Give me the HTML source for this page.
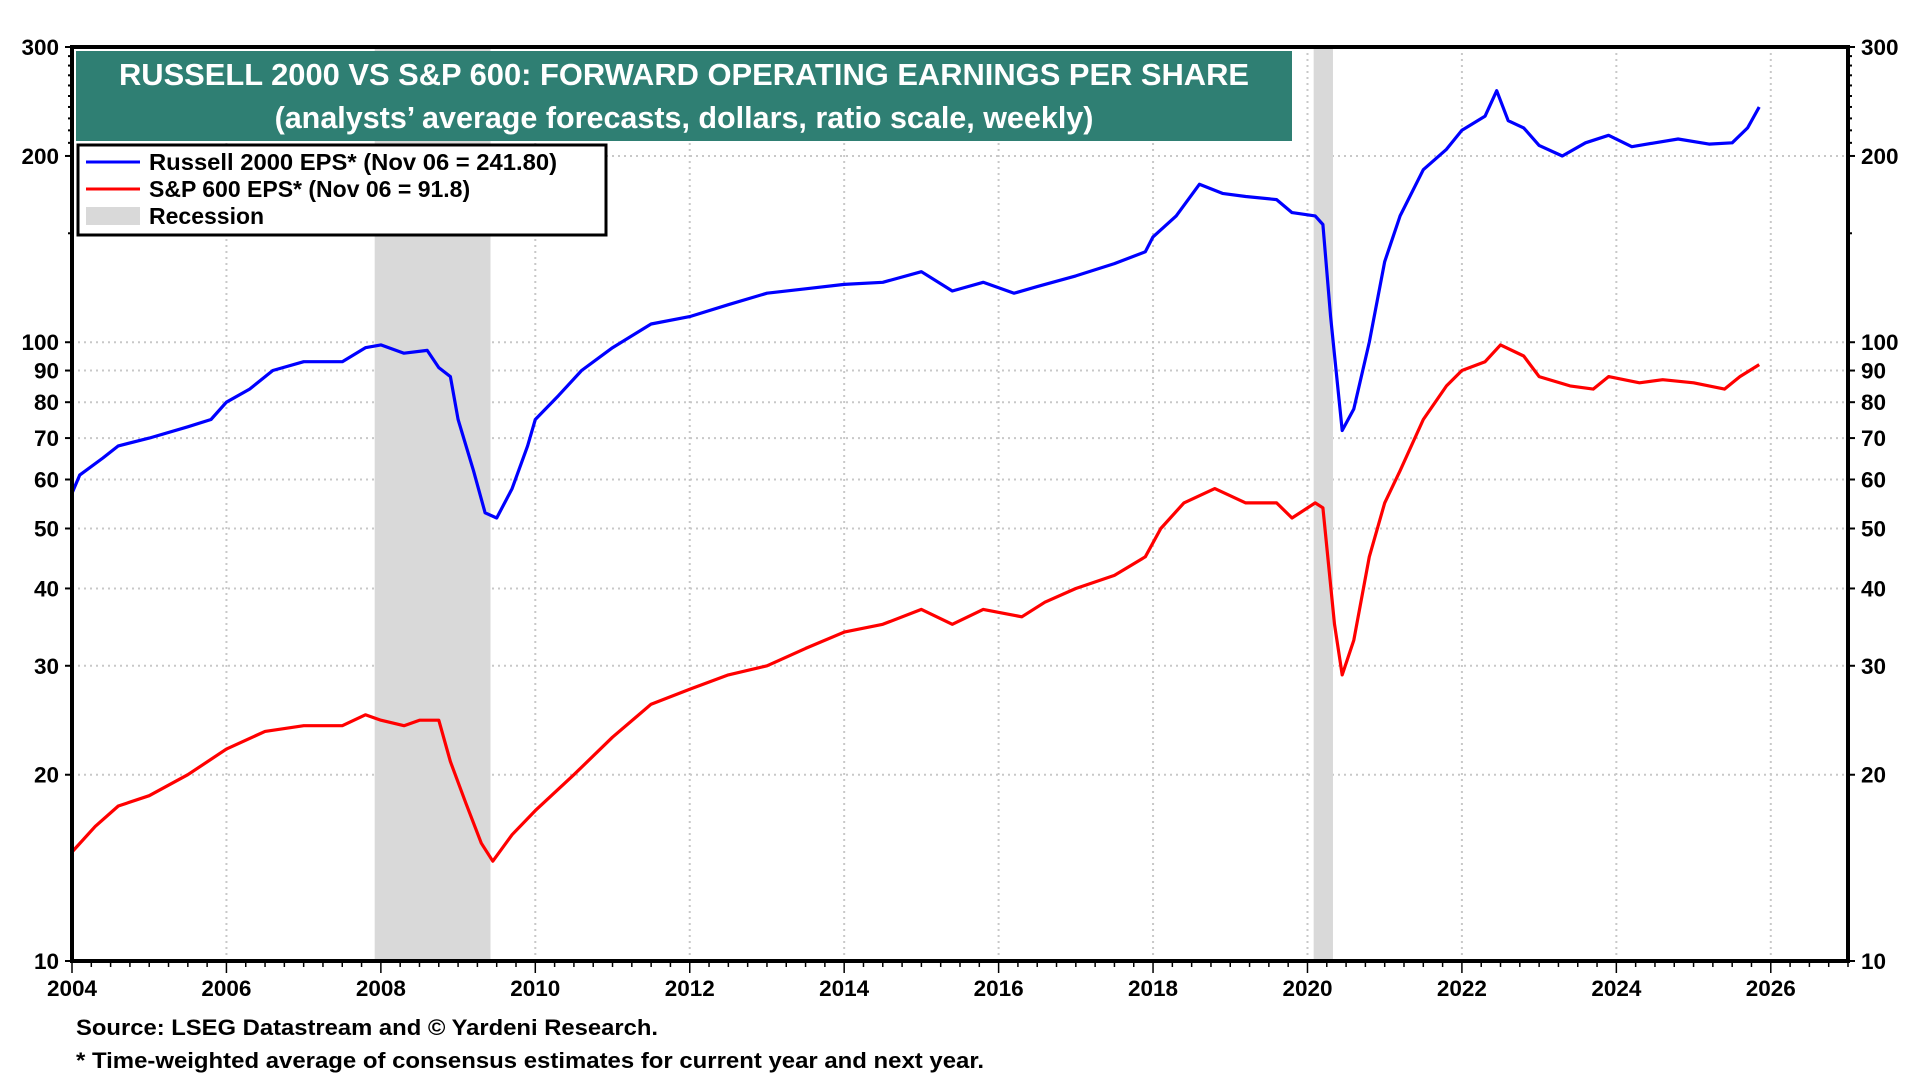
<!DOCTYPE html>
<html><head><meta charset="utf-8"><style>
body{margin:0;background:#fff;}
svg{display:block;font-family:"Liberation Sans",Arial,sans-serif;font-weight:bold;}
</style></head><body>
<svg id="chart" width="1920" height="1080" viewBox="0 0 1920 1080">
<g id="grid"></g>
<g id="recess"></g>
<g id="lines"></g>
<g id="axes"></g>
<rect x="76" y="51" width="1216" height="90" fill="#2F7F73"/>
<text x="684" y="85" text-anchor="middle" fill="#fff" font-size="30.5" textLength="1130" lengthAdjust="spacingAndGlyphs">RUSSELL 2000 VS S&amp;P 600: FORWARD OPERATING EARNINGS PER SHARE</text>
<text x="684" y="128" text-anchor="middle" fill="#fff" font-size="30.5">(analysts’ average forecasts, dollars, ratio scale, weekly)</text>
<g>
<rect x="78" y="145" width="528" height="90" fill="#fff" stroke="#000" stroke-width="3"/>
<line x1="86" y1="162" x2="140" y2="162" stroke="#0000FF" stroke-width="3"/>
<text x="149" y="170" font-size="23" textLength="408" lengthAdjust="spacingAndGlyphs">Russell 2000 EPS* (Nov 06 = 241.80)</text>
<line x1="86" y1="189" x2="140" y2="189" stroke="#FF0000" stroke-width="3"/>
<text x="149" y="197" font-size="23">S&amp;P 600 EPS* (Nov 06 = 91.8)</text>
<rect x="86" y="207" width="54" height="18" fill="#D9D9D9"/>
<text x="149" y="224" font-size="23">Recession</text>
</g>
<text x="76" y="1035" font-size="22" textLength="582" lengthAdjust="spacingAndGlyphs">Source: LSEG Datastream and © Yardeni Research.</text>
<text x="76" y="1068" font-size="22" textLength="908" lengthAdjust="spacingAndGlyphs">* Time-weighted average of consensus estimates for current year and next year.</text>
</svg>
<script>
const r2kYears=[2004.0,2004.1,2004.4,2004.6,2005.0,2005.5,2005.8,2006.0,2006.3,2006.6,2007.0,2007.5,2007.8,2008.0,2008.3,2008.6,2008.75,2008.9,2009.0,2009.2,2009.35,2009.5,2009.7,2009.9,2010.0,2010.3,2010.6,2011.0,2011.5,2012.0,2012.5,2013.0,2013.5,2014.0,2014.5,2015.0,2015.4,2015.8,2016.2,2016.5,2017.0,2017.5,2017.9,2018.0,2018.3,2018.6,2018.9,2019.2,2019.6,2019.8,2020.1,2020.2,2020.3,2020.45,2020.6,2020.8,2021.0,2021.2,2021.5,2021.8,2022.0,2022.3,2022.45,2022.6,2022.8,2023.0,2023.3,2023.6,2023.9,2024.2,2024.5,2024.8,2025.2,2025.5,2025.7,2025.85];
const r2kValues=[57,61,65,68,70,73,75,80,84,90,93,93,98,99,96,97,91,88,75,62,53,52,58,68,75,82,90,98,107,110,115,120,122,124,125,130,121,125,120,123,128,134,140,148,160,180,174,172,170,162,160,155,110,72,78,100,135,160,190,205,220,232,255,228,222,208,200,210,216,207,210,213,209,210,222,240];
const sp6Years=[2004.0,2004.3,2004.6,2005.0,2005.5,2006.0,2006.5,2007.0,2007.5,2007.8,2008.0,2008.3,2008.5,2008.75,2008.9,2009.1,2009.3,2009.45,2009.7,2010.0,2010.5,2011.0,2011.5,2012.0,2012.5,2013.0,2013.5,2014.0,2014.5,2015.0,2015.4,2015.8,2016.3,2016.6,2017.0,2017.5,2017.9,2018.1,2018.4,2018.8,2019.2,2019.6,2019.8,2020.1,2020.2,2020.35,2020.45,2020.6,2020.8,2021.0,2021.2,2021.5,2021.8,2022.0,2022.3,2022.5,2022.8,2023.0,2023.4,2023.7,2023.9,2024.3,2024.6,2025.0,2025.4,2025.6,2025.85];
const sp6Values=[15,16.5,17.8,18.5,20,22,23.5,24,24,25,24.5,24,24.5,24.5,21,18,15.5,14.5,16,17.5,20,23,26,27.5,29,30,32,34,35,37,35,37,36,38,40,42,45,50,55,58,55,55,52,55,54,35,29,33,45,55,62,75,85,90,93,99,95,88,85,84,88,86,87,86,84,88,92];
const recessionStarts=[2007.92,2020.08];
const recessionEnds=[2009.42,2020.33];
const yTicks=[10,20,30,40,50,60,70,80,90,100,200,300];
const xTicks=[2004,2006,2008,2010,2012,2014,2016,2018,2020,2022,2024,2026];

const L=72,R=1848,T=47,B=961,X0=2004,X1=2027;
const NS="http://www.w3.org/2000/svg";
function xS(y){return L+(y-X0)/(X1-X0)*(R-L);}
function yS(v){return B-(Math.log10(v)-1)/Math.log10(30)*(B-T);}
function mk(tag,attrs,parent,txt){const e=document.createElementNS(NS,tag);for(const k in attrs)e.setAttribute(k,attrs[k]);if(txt!==undefined)e.textContent=txt;parent.appendChild(e);return e;}
const grid=document.getElementById('grid'),rec=document.getElementById('recess'),lines=document.getElementById('lines'),axes=document.getElementById('axes');

yTicks.forEach(v=>{
  if(v!==10&&v!==300){const g=mk('line',{x1:L,x2:R,y1:yS(v),y2:yS(v),stroke:'#C8C8C8','stroke-width':2,'stroke-dasharray':'2,4'},grid);
  
  }
  const a=mk('text',{x:L-13,y:yS(v)+8,'text-anchor':'end','font-size':22.5},axes,String(v));
  
  
  const b=mk('text',{x:R+13,y:yS(v)+8,'font-size':22.5},axes,String(v));
  
  
  mk('line',{x1:L-7,x2:L,y1:yS(v),y2:yS(v),stroke:'#000','stroke-width':2},axes);
  mk('line',{x1:R,x2:R+7,y1:yS(v),y2:yS(v),stroke:'#000','stroke-width':2},axes);
});
[150,250].concat([210,220,230,240,260,270,280,290]).forEach(v=>{
  mk('line',{x1:L-4,x2:L,y1:yS(v),y2:yS(v),stroke:'#000','stroke-width':2},axes);
  mk('line',{x1:R,x2:R+4,y1:yS(v),y2:yS(v),stroke:'#000','stroke-width':2},axes);
});
xTicks.forEach(t=>{
  if(t!==2004){const g=mk('line',{x1:xS(t),x2:xS(t),y1:T,y2:B,stroke:'#C8C8C8','stroke-width':2,'stroke-dasharray':'2,4'},grid);
  
  }
  const a=mk('text',{x:xS(t),y:B+35,'text-anchor':'middle','font-size':22.5},axes,String(t));
  
  
});
for(let q=X0;q<=X1;q+=0.25){mk('line',{x1:xS(q),x2:xS(q),y1:B,y2:B+(Number.isInteger(q)&&q%2===0?12:6),stroke:'#000','stroke-width':1.5},axes);}
recessionStarts.forEach((s,i)=>{
  const r=mk('rect',{x:xS(s),y:T,width:xS(recessionEnds[i])-xS(s),height:B-T,fill:'#D9D9D9'},rec);
  
  
});
function path(xs,vs,color,name){
  const d=xs.map((x,i)=>(i?'L':'M')+xS(x).toFixed(1)+','+yS(vs[i]).toFixed(1)).join('');
  const p=mk('path',{d:d,fill:'none',stroke:color,'stroke-width':3.2,'stroke-linejoin':'round'},lines);
  
  
}
path(r2kYears,r2kValues,'#0000FF','russell-2000-line');
path(sp6Years,sp6Values,'#FF0000','sp-600-line');
const fr=mk('rect',{x:L,y:T,width:R-L,height:B-T,fill:'none',stroke:'#000','stroke-width':4},axes);


</script>
</body></html>
